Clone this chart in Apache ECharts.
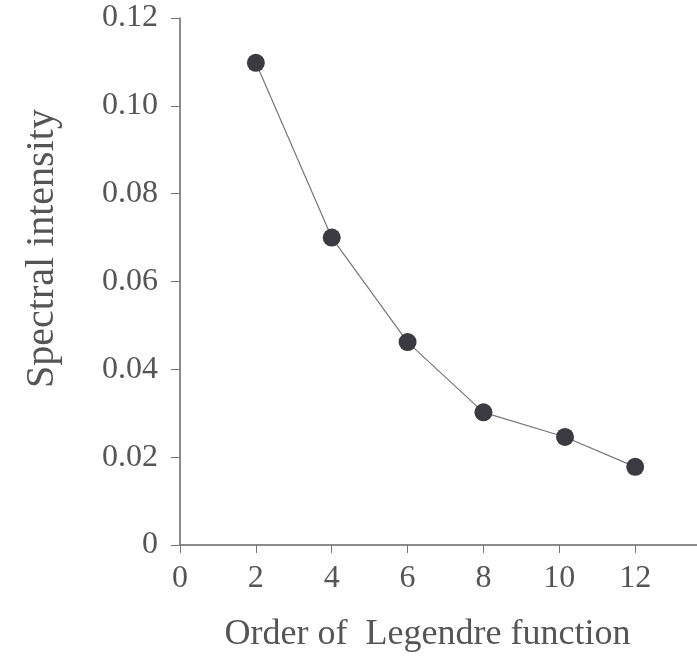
<!DOCTYPE html>
<html><head><meta charset="utf-8">
<script src="https://cdn.jsdelivr.net/npm/echarts@6/dist/echarts.min.js"></script>
<style>html,body{margin:0;padding:0;background:#fff}#c{width:697px;height:660px}</style>
</head><body><div id="c"></div>
<script>
const orders = [2, 4, 6, 8, 10.15, 12];
const intensity = [0.1098, 0.0700, 0.0462, 0.0302, 0.0246, 0.0178];
const xTicks = [0, 2, 4, 6, 8, 10, 12];
const yTicks = [0, 0.02, 0.04, 0.06, 0.08, 0.10, 0.12];
const xTitle = 'Order of  Legendre function';
const yTitle = 'Spectral intensity';

const font = 'Liberation Serif';
const chart = echarts.init(document.getElementById('c'));
chart.setOption({
  animation: false,
  backgroundColor: '#fff',
  grid: {left: 180, right: 0, top: 18, bottom: 115},
  xAxis: {
    type: 'value', min: 0, max: 13.63, interval: 2,
    name: xTitle, nameLocation: 'middle', nameGap: 72,
    nameTextStyle: {fontFamily: font, fontSize: 36, color: '#555', padding: [0, 22, 0, 0]},
    axisLine: {lineStyle: {color: '#666', width: 1.5}},
    axisTick: {show: true, length: 8, lineStyle: {color: '#777'}},
    axisLabel: {fontFamily: font, fontSize: 32, color: '#555', margin: 18, showMaxLabel: false,
      formatter: v => xTicks.includes(v) ? String(v) : ''},
    splitLine: {show: false}
  },
  yAxis: {
    type: 'value', min: 0, max: 0.12, interval: 0.02,
    name: yTitle, nameLocation: 'middle', nameGap: 118, nameRotate: 90,
    nameTextStyle: {fontFamily: font, fontSize: 40, color: '#555', padding: [0, 0, 0, 66]},
    axisLine: {show: true, lineStyle: {color: '#666', width: 1.5}},
    axisTick: {show: true, length: 9, lineStyle: {color: '#777'}},
    axisLabel: {fontFamily: font, fontSize: 32, color: '#555', margin: 22,
      formatter: v => { const t = yTicks.find(y => Math.abs(y - v) < 1e-9); return t === undefined ? '' : (t === 0 ? '0' : t.toFixed(2)); }},
    splitLine: {show: false}
  },
  series: [{
    type: 'line',
    data: orders.map((x, i) => [x, intensity[i]]),
    symbol: 'circle', symbolSize: 18,
    itemStyle: {color: '#3a3a40'},
    lineStyle: {color: '#777', width: 1.2}
  }]
});
</script></body></html>
